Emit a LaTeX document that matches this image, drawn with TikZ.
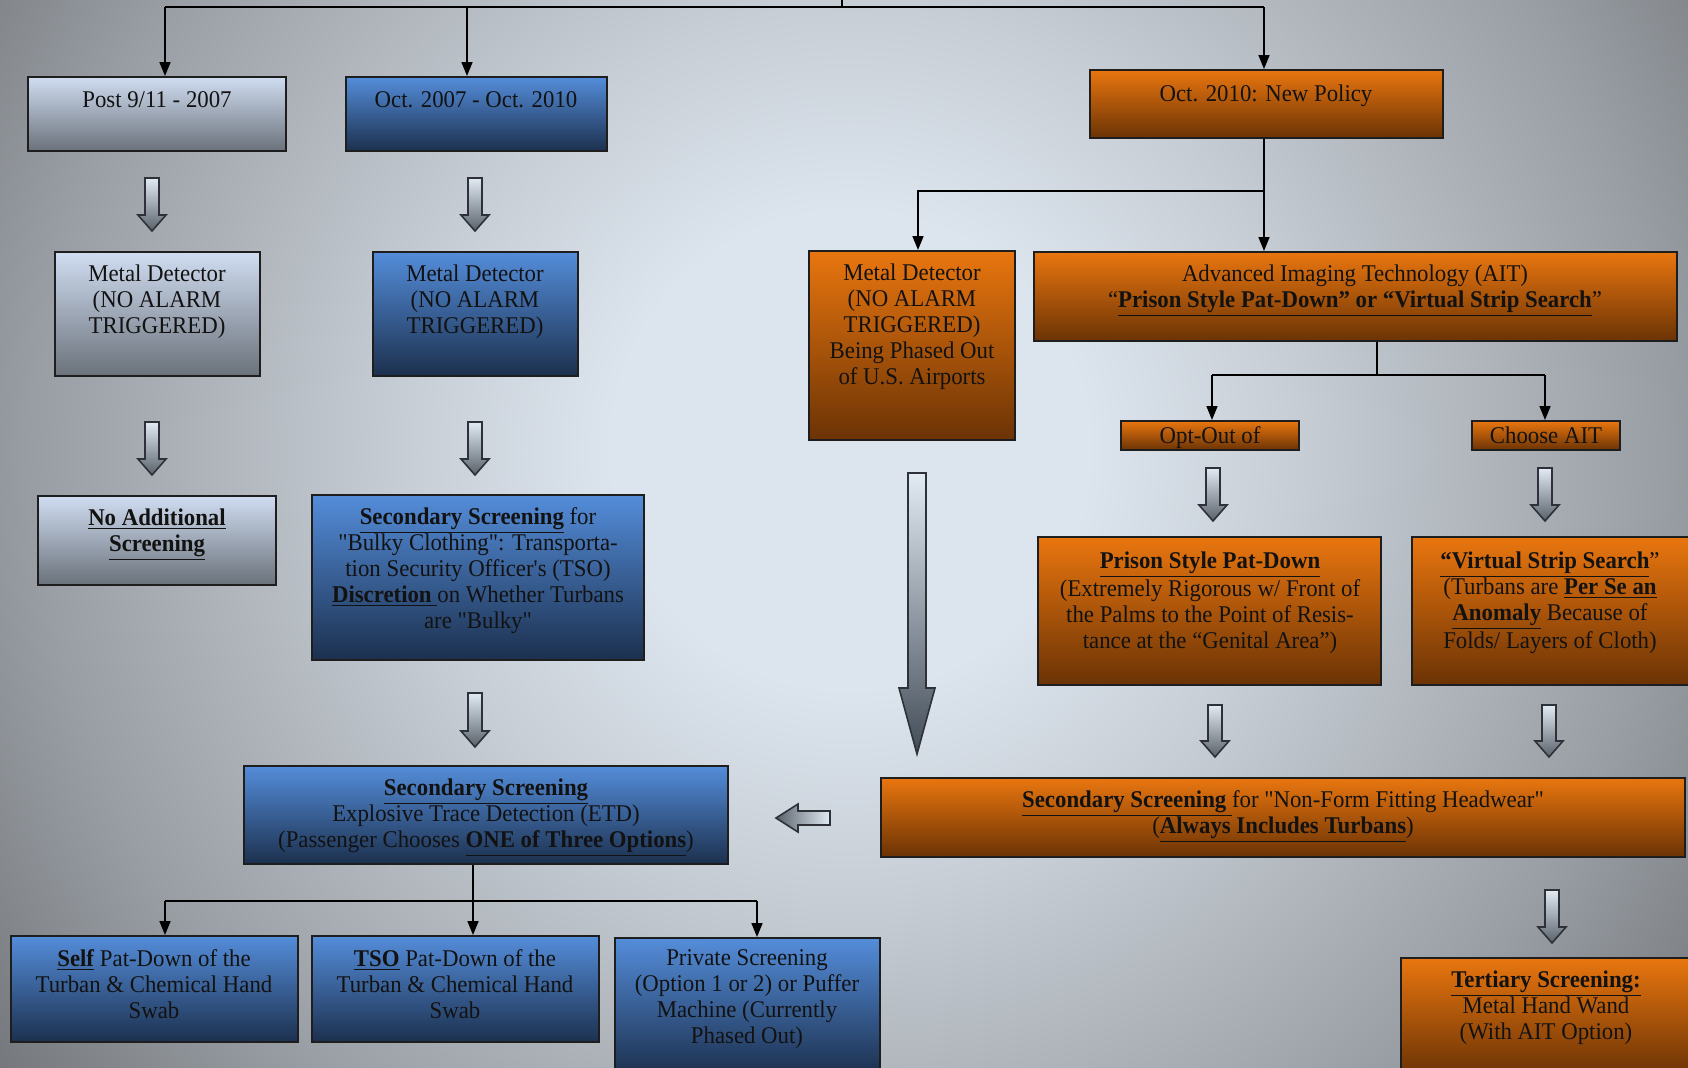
\documentclass[tikz,border=0pt]{standalone}
\usepackage{fontspec}
\setmainfont{Liberation Serif}[FakeStretch=0.95,Ligatures=TeXOff]
\usetikzlibrary{arrows.meta,fit}
\definecolor{bgA}{HTML}{DCE4ED}
\definecolor{bgB}{HTML}{C7CED6}
\definecolor{bgC}{HTML}{B2B8BE}
\definecolor{bgD}{HTML}{999EA4}
\definecolor{bgF}{HTML}{7F8388}
\definecolor{bgE}{HTML}{696C70}
\definecolor{ltop}{HTML}{D0DDF1}
\definecolor{lmid}{HTML}{AEB8C5}
\definecolor{lbot}{HTML}{6A717A}
\definecolor{btop}{HTML}{548DDA}
\definecolor{bmid}{HTML}{37649C}
\definecolor{bbot}{HTML}{1C304E}
\definecolor{otop}{HTML}{E9760F}
\definecolor{omid}{HTML}{C7620B}
\definecolor{obot}{HTML}{6B3305}
\definecolor{edge}{HTML}{1E1E1E}
\definecolor{arrtop}{HTML}{E2EAF3}
\definecolor{arrbot}{HTML}{59616B}
\definecolor{arrdark}{HTML}{424C57}
\definecolor{arrline}{HTML}{2E3238}
\definecolor{textc}{HTML}{121212}
\pgfdeclareradialshading{bgshade}{\pgfpoint{0bp}{0bp}}{color(0bp)=(bgA); color(7bp)=(bgA); color(13bp)=(bgB); color(18bp)=(bgC); color(24bp)=(bgD); color(29bp)=(bgF); color(33bp)=(bgE); color(50bp)=(bgE)}
\newcommand\ub[1]{\underline{\textbf{#1}}}
\newcommand\darr[3]{%
  \shade[top color=arrtop, bottom color=arrbot, draw=arrline, line width=0.8pt, line join=miter]
  ({#1-7},#2) -- ({#1+7},#2) -- ({#1+7},{#3-16}) -- ({#1+14},{#3-16}) -- (#1,#3)
  -- ({#1-14},{#3-16}) -- ({#1-7},{#3-16}) -- cycle;}
\begin{document}
\begin{tikzpicture}[x=0.5pt,y=-0.5pt,
  lbox/.style={draw=edge, line width=1pt, inner sep=0pt, top color=ltop, middle color=lmid, bottom color=lbot},
  bbox/.style={draw=edge, line width=1pt, inner sep=0pt, top color=btop, middle color=bmid, bottom color=bbot},
  obox/.style={draw=edge, line width=1pt, inner sep=0pt, top color=otop, middle color=omid, bottom color=obot},
  txt/.style={font=\fontsize{12pt}{13pt}\selectfont, align=center, inner sep=0pt, text=textc, anchor=north},
  conn/.style={draw=black, line width=0.8pt},
  tip/.style={-{Triangle[length=7pt,width=5.5pt]}}]
\useasboundingbox (0,0) rectangle (1688,1067);
\begin{scope}
\clip (0,0) rectangle (1688,1067);
\shade[shading=bgshade] (0,-400) rectangle (1700,1300);

% boxes
\node[lbox, fit={(28,77) (286,151)}] (post) {};
\node[bbox, fit={(346,77) (607,151)}] (oct07) {};
\node[obox, fit={(1090,70) (1443,138)}] (oct10) {};
\node[lbox, fit={(55,252) (260,376)}] (md1) {};
\node[bbox, fit={(373,252) (578,376)}] (md2) {};
\node[obox, fit={(809,251) (1015,440)}] (md3) {};
\node[obox, fit={(1034,252) (1677,341)}] (ait) {};
\node[obox, fit={(1121,421) (1299,450)}] (optout) {};
\node[obox, fit={(1472,421) (1620,450)}] (choose) {};
\node[lbox, fit={(38,496) (276,585)}] (noadd) {};
\node[bbox, fit={(312,495) (644,660)}] (bulky) {};
\node[obox, fit={(1038,537) (1381,685)}] (prison) {};
\node[obox, fit={(1412,537) (1694,685)}] (virtual) {};
\node[bbox, fit={(244,766) (728,864)}] (etd) {};
\node[obox, fit={(881,778) (1685,857)}] (nonform) {};
\node[bbox, fit={(11,936) (298,1042)}] (self) {};
\node[bbox, fit={(312,936) (599,1042)}] (tso) {};
\node[bbox, fit={(615,938) (880,1075)}] (private) {};
\node[obox, fit={(1401,958) (1694,1075)}] (tert) {};

% texts
\node[txt] (postT) at (157,91) {Post 9/11 - 2007};
\node[txt] (oct07T) at (476,91) {Oct. 2007 - Oct. 2010};
\node[txt] (oct10T) at (1266,84) {Oct. 2010: New Policy};
\node[txt] (md1T) at (157,264) {Metal Detector\\(NO ALARM\\TRIGGERED)};
\node[txt] (md2T) at (475,264) {Metal Detector\\(NO ALARM\\TRIGGERED)};
\node[txt] (md3T) at (912,263) {Metal Detector\\(NO ALARM\\TRIGGERED)\\Being Phased Out\\of U.S. Airports};
\node[txt] (aitT) at (1355,264) {Advanced Imaging Technology (AIT)\\“\ub{Prison Style Pat-Down” or “Virtual Strip Search}”};
\node[txt] (optoutT) at (1210,426) {Opt-Out of};
\node[txt] (chooseT) at (1546,426) {Choose AIT};
\node[txt] (noaddT) at (157,508) {\ub{No Additional}\\\ub{Screening}};
\node[txt] (bulkyT) at (478,507) {\ub{Secondary Screening} for\\"Bulky Clothing": Transporta-\\tion Security Officer's (TSO)\\\underline{\textbf{Discretion}\ }on Whether Turbans\\are "Bulky"};
\node[txt] (prisonT) at (1210,551) {\ub{Prison Style Pat-Down}\\(Extremely Rigorous w/ Front of\\the Palms to the Point of Resis-\\tance at the “Genital Area”)};
\node[txt] (virtualT) at (1550,551) {\ub{“Virtual Strip Search}”\\(Turbans are \ub{Per Se an}\\\ub{Anomaly} Because of\\Folds/ Layers of Cloth)};
\node[txt] (etdT) at (486,778) {\ub{Secondary Screening}\\Explosive Trace Detection (ETD)\\(Passenger Chooses \ub{ONE of Three Options})};
\node[txt] (nonformT) at (1283,790) {\underline{\textbf{Secondary Screening}\ }for "Non-Form Fitting Headwear"\\(\ub{Always Includes Turbans})};
\node[txt] (selfT) at (154,949) {\ub{Self} Pat-Down of the\\Turban \& Chemical Hand\\Swab};
\node[txt] (tsoT) at (455,949) {\ub{TSO} Pat-Down of the\\Turban \& Chemical Hand\\Swab};
\node[txt] (privateT) at (747,949) {Private Screening\\(Option 1 or 2) or Puffer\\Machine (Currently\\Phased Out)};
\node[txt] (tertT) at (1546,970) {\ub{Tertiary Screening:}\\Metal Hand Wand\\(With AIT Option)};

% thin connectors
\coordinate (t0) at (842,-5);
\coordinate (tC) at (842,7);
\coordinate (tL) at (165,7);
\coordinate (tM) at (467,7);
\coordinate (tR) at (1264,7);
\draw[conn] (t0) -- (tC);
\draw[conn] (tL) -- (tR);
\draw[conn,tip] (tL) -- (tL |- post.north);
\draw[conn,tip] (tM) -- (tM |- oct07.north);
\draw[conn,tip] (tR) -- (tR |- oct10.north);

\coordinate (b0) at (1264,191);
\coordinate (b1) at (918,191);
\draw[conn,tip] (b0 |- oct10.south) -- (b0 |- ait.north);
\draw[conn,tip] (b0) -- (b1) -- (b1 |- md3.north);

\coordinate (c0) at (1377,375);
\coordinate (cL) at (1212,375);
\coordinate (cR) at (1545,375);
\draw[conn] (c0 |- ait.south) -- (c0);
\draw[conn] (cL) -- (cR);
\draw[conn,tip] (cL) -- (cL |- optout.north);
\draw[conn,tip] (cR) -- (cR |- choose.north);

\coordinate (dC) at (473,901);
\coordinate (dL) at (165,901);
\coordinate (dR) at (757,901);
\draw[conn] (dC |- etd.south) -- (dC);
\draw[conn] (dL) -- (dR);
\draw[conn,tip] (dL) -- (dL |- self.north);
\draw[conn,tip] (dC) -- (dC |- tso.north);
\draw[conn,tip] (dR) -- (dR |- private.north);

% block arrows
\darr{152}{178}{231}
\darr{475}{178}{231}
\darr{152}{422}{475}
\darr{475}{422}{475}
\darr{475}{693}{747}
\darr{1213}{468}{521}
\darr{1545}{468}{521}
\darr{1215}{705}{757}
\darr{1549}{705}{757}
\darr{1552}{890}{943}
% long arrow
\shade[top color=arrtop, bottom color=arrdark, draw=arrline, line width=0.8pt, line join=miter]
  (908,473) -- (926,473) -- (926,688) -- (935,688) -- (917,754) -- (899,688) -- (908,688) -- cycle;
% left arrow
\shade[left color=arrbot, right color=arrtop, draw=arrline, line width=0.8pt, line join=miter]
  (830,811) -- (830,825) -- (798,825) -- (798,832) -- (776,818) -- (798,804) -- (798,811) -- cycle;
\end{scope}
\end{tikzpicture}
\end{document}
